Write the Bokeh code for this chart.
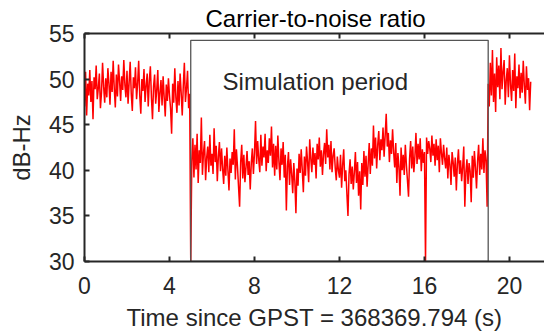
from bokeh.plotting import figure
from bokeh.models import Range1d, FixedTicker, LinearAxis, CustomJSTickFormatter, Label
from bokeh.embed import file_html
from bokeh.resources import INLINE

# ---------------- data ----------------
SAMPLE_INTERVAL = 0.05  # s

# C/N0 (dB-Hz) before the simulation period, t = 0.00 .. 4.95 s
cn0_before = [
    47.0, 50.8, 46.0, 49.5, 48.2, 51.0, 47.5, 49.8, 45.6, 50.2, 48.9, 51.5, 47.8, 49.0, 50.6, 46.8, 48.5, 51.8, 49.2, 47.4,
    50.1, 48.0, 51.2, 49.5, 47.2, 50.8, 48.6, 52.0, 49.0, 46.9, 50.5, 48.1, 51.6, 49.8, 47.6, 50.3, 48.8, 52.1, 49.4, 48.0,
    50.9, 47.3, 49.6, 51.9, 48.4, 46.5, 50.2, 49.0, 51.3, 47.8, 49.5, 52.0, 48.2, 46.2, 50.0, 48.7, 51.1, 47.5, 49.3, 50.6,
    47.0, 49.8, 51.4, 48.0, 45.6, 49.2, 50.5, 47.3, 48.8, 51.0, 46.4, 48.5, 49.9, 47.1, 50.3, 48.0, 45.9, 49.4, 47.6, 50.1,
    48.2, 46.8, 44.0, 49.5, 47.4, 51.2, 48.0, 46.3, 49.8, 47.1, 50.6, 48.5, 46.0, 49.3, 51.8, 47.5, 49.0, 50.9, 46.8, 48.4,
]

# C/N0 (dB-Hz) during the simulation period, t = 5.00 .. 18.95 s
cn0_sim = [
    30.0, 41.0, 43.5, 39.2, 42.8, 40.1, 44.0, 38.6, 42.2, 40.8, 45.8, 39.5, 41.9, 43.2, 38.9, 41.4, 42.6, 39.8, 43.9, 40.5,
    41.8, 39.6, 44.6, 40.9, 42.7, 38.8, 41.5, 43.1, 39.9, 42.4, 40.2, 38.5, 41.6, 39.4, 42.5, 40.0, 37.8, 41.3, 39.7, 42.0,
    40.6, 44.5, 39.0, 42.3, 40.4, 38.2, 36.0, 40.9, 42.8, 39.1, 41.7, 38.7, 40.3, 42.1, 39.5, 41.0, 37.9, 40.8, 42.4, 39.6,
    41.9, 45.4, 40.7, 43.2, 41.2, 39.8, 43.9, 40.5, 42.6, 41.4, 44.0, 39.9, 42.2, 40.8, 43.5, 41.6, 44.8, 40.3, 42.9, 39.4,
    42.7, 40.1, 43.8, 41.0, 38.9, 42.4, 40.6, 43.1, 39.2, 41.7, 35.6, 40.4, 42.0, 38.4, 41.2, 39.6, 37.5, 40.8, 38.8, 35.3,
    40.2, 38.3, 41.8, 39.7, 42.3, 40.0, 37.6, 41.5, 39.4, 42.6, 40.9, 38.7, 43.4, 41.3, 39.8, 42.5, 40.6, 41.9, 39.1, 42.9,
    41.2, 43.6, 40.4, 42.2, 39.5, 41.8, 43.0, 40.7, 44.5, 41.4, 42.8, 40.1, 43.2, 39.8, 41.6, 42.4, 40.3, 38.9, 41.5, 40.0,
    39.2, 41.7, 38.1, 40.6, 42.3, 38.8, 40.0, 37.4, 35.0, 39.6, 41.2, 38.5, 40.4, 37.9, 39.8, 42.0, 38.6, 40.9, 37.2, 39.9,
    35.7, 40.8, 38.4, 42.1, 39.3, 41.6, 38.2, 40.7, 43.0, 39.6, 42.4, 40.5, 44.9, 41.3, 43.6, 40.2, 42.8, 44.3, 41.1, 43.4,
    42.2, 44.7, 41.5, 43.8, 46.2, 42.6, 44.1, 40.9, 43.3, 41.8, 44.5, 42.0, 40.3, 43.0, 38.6, 41.9, 40.4, 37.2, 42.5, 40.0,
    41.7, 39.5, 42.8, 40.6, 38.9, 37.1, 41.3, 43.2, 40.2, 42.6, 39.8, 41.5, 44.1, 40.7, 42.9, 41.2, 43.5, 39.9, 42.3, 40.8,
    42.0, 30.0, 43.6, 41.8, 43.2, 42.4, 40.9, 43.8, 41.6, 42.9, 40.5, 43.4, 41.1, 42.7, 39.8, 43.5, 41.9, 40.6, 42.8, 41.3,
    40.2, 42.5, 39.1, 41.7, 40.6, 38.4, 42.0, 40.9, 39.3, 41.4, 37.8, 40.7, 42.3, 39.6, 41.1, 38.8, 40.4, 42.6, 36.0, 39.8,
    41.2, 38.5, 40.8, 39.9, 36.5, 41.6, 39.2, 42.1, 40.3, 38.0, 41.0, 42.8, 39.5, 41.8, 40.1, 43.5, 39.7, 42.2, 41.0, 36.0,
]

# C/N0 (dB-Hz) after the simulation period, t = 19.00 .. 21.00 s
cn0_after = [
    49.5, 47.0, 51.8, 48.2, 53.2, 47.5, 50.6, 46.4, 52.4, 49.1, 51.5, 47.8, 53.4, 48.9, 50.8, 52.1, 47.2, 49.9, 51.2, 48.0,
    52.6, 49.4, 47.6, 51.0, 48.7, 52.8, 46.8, 50.3, 49.0, 51.6, 47.9, 50.7, 48.5, 52.0, 49.3, 47.3, 51.4, 48.8, 50.1, 46.6,
    49.7,
]

sim_start = 5.0     # s
sim_end = 19.0      # s
box_top = 54.25     # dB-Hz
box_label = "Simulation period"
box_label_x = 6.5
box_label_y = 49.7

x_ticks = [0, 4, 8, 12, 16, 20]
y_ticks = [30, 35, 40, 45, 50, 55]
x_min, x_max = 0, 21.65
y_min, y_max = 30, 55

title = "Carrier-to-noise ratio"
x_label = "Time since GPST = 368369.794 (s)"
y_label = "dB-Hz"

# ---------------- plot ----------------
cn0 = cn0_before + cn0_sim + cn0_after
time = [round(i * SAMPLE_INTERVAL, 2) for i in range(len(cn0))]

FONT = "Liberation Sans"
TXT = "#262626"

p = figure(width=544, height=334, output_backend="svg", toolbar_location=None,
           x_range=Range1d(x_min, x_max), y_range=Range1d(y_min, y_max),
           min_border_left=84, min_border_right=0, min_border_top=0, min_border_bottom=73,
           background_fill_color="white", border_fill_color="white")
p.outline_line_color = None
p.grid.visible = False

p.title.text = title
p.title.text_font = FONT
p.title.text_font_size = "24px"
p.title.text_font_style = "normal"
p.title.text_color = "black"
p.title.align = "left"
p.title.offset = 121
p.title.standoff = 4

for ax in (p.xaxis[0], p.yaxis[0]):
    ax.major_label_text_font = FONT
    ax.major_label_text_font_size = "23px"
    ax.major_label_text_color = TXT
    ax.axis_label_text_font = FONT
    ax.axis_label_text_font_size = "24px"
    ax.axis_label_text_font_style = "normal"
    ax.axis_label_text_color = TXT
    ax.axis_line_color = TXT
    ax.axis_line_width = 2
    ax.major_tick_line_color = TXT
    ax.major_tick_line_width = 2
    ax.major_tick_in = 5
    ax.major_tick_out = 0
    ax.minor_tick_line_color = None

p.xaxis[0].ticker = FixedTicker(ticks=x_ticks)
p.yaxis[0].ticker = FixedTicker(ticks=y_ticks)
p.xaxis[0].axis_label = x_label
p.yaxis[0].axis_label = y_label
p.xaxis[0].major_label_standoff = 15
p.xaxis[0].axis_label_standoff = 7
p.yaxis[0].major_label_standoff = 10
p.yaxis[0].axis_label_standoff = 11

top_ax = LinearAxis(ticker=FixedTicker(ticks=x_ticks),
                    formatter=CustomJSTickFormatter(code="return ''"))
top_ax.axis_line_color = TXT
top_ax.axis_line_width = 2
top_ax.major_tick_line_color = TXT
top_ax.major_tick_line_width = 2
top_ax.major_tick_in = 5
top_ax.major_tick_out = 0
top_ax.minor_tick_line_color = None
top_ax.major_label_standoff = 0
top_ax.major_label_text_font_size = "0px"
p.add_layout(top_ax, "above")

p.line(time, cn0, line_color="red", line_width=1.5)

p.quad(left=[sim_start], right=[sim_end], bottom=[y_min], top=[box_top],
       fill_color=None, line_color="#555555", line_width=1.3)

p.add_layout(Label(x=box_label_x, y=box_label_y, text=box_label,
                   text_font=FONT, text_font_size="24px", text_color=TXT,
                   text_baseline="alphabetic", text_align="left"))

open("out.html", "w").write(file_html(p, INLINE))
